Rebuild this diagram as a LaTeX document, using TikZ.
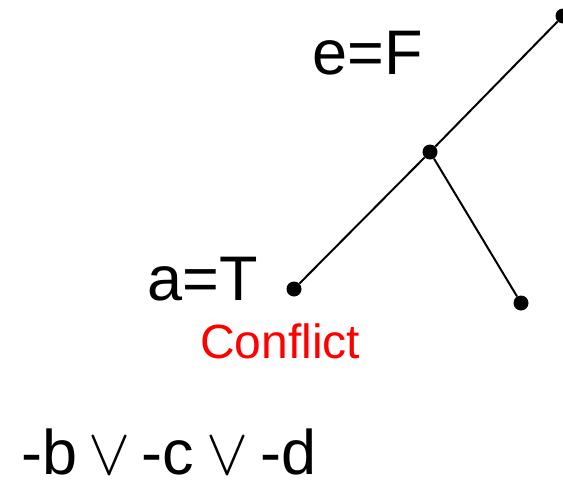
\documentclass[tikz,border=0pt]{standalone}
\usepackage{fontspec}
\setmainfont{Liberation Sans}
\begin{document}
\begin{tikzpicture}[x=1pt,y=-1pt,
  dot/.style={circle,fill=black,inner sep=0pt,minimum size=15pt},
  edge/.style={draw=black,line width=2pt},
  lbl/.style={anchor=base west,inner sep=0pt,font=\fontsize{63}{63}\selectfont},
  orsym/.style={anchor=base,inner sep=0pt},
  conf/.style={anchor=base west,inner sep=0pt,text=red,font=\fontsize{48}{48}\selectfont}]
\useasboundingbox (0,0) rectangle (563,482);
\node[dot] (top) at (563,16) {};
\node[dot] (mid) at (430,152) {};
\node[dot] (left) at (294,289) {};
\node[dot] (right) at (521,303) {};
\draw[edge] (top) -- (mid);
\draw[edge] (mid) -- (left);
\draw[edge] (mid) -- (right);
\node[lbl] (ef) at (312,74) {e=F};
\node[lbl] (at) at (147,300) {a=T};
\node[conf] (cf) at (200,358) {Conflict};
\node[lbl] (nb) at (21,474) {-b};
\node[orsym] (or1) at (109,474) {\scalebox{6.3}[6.6]{$\vee$}};
\node[lbl] (nc) at (141,474) {-c};
\node[orsym] (or2) at (227,474) {\scalebox{6.3}[6.6]{$\vee$}};
\node[lbl] (nd) at (260,474) {-d};
\end{tikzpicture}
\end{document}
